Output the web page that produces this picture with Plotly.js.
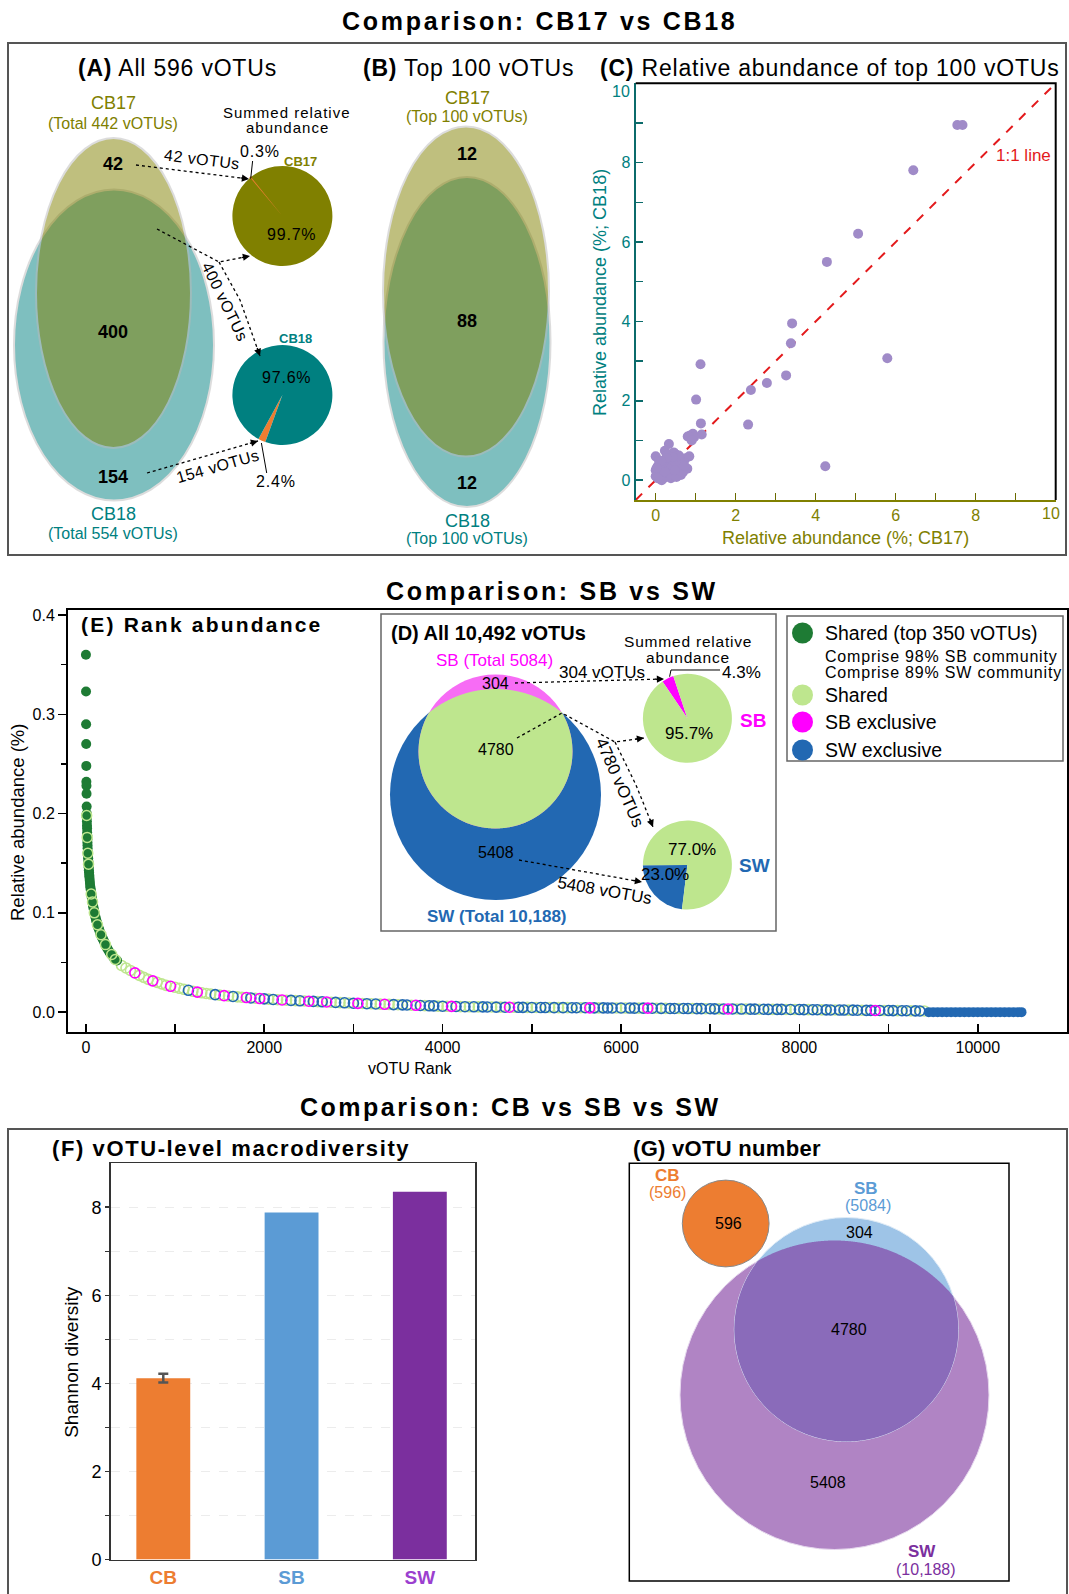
<!DOCTYPE html>
<html><head><meta charset="utf-8">
<script src="https://cdn.plot.ly/plotly-3.0.1.min.js"></script>
<style>html,body{margin:0;padding:0;background:#fff}</style>
</head><body>
<div id="chart" style="width:1069px;height:1594px"></div>
<script>
// ================= DATA =================
// (A) Venn: CB17-only, shared, CB18-only
const aCounts = [42, 400, 154];
const aTotals = [442, 554];
const aAllTotal = 596;
// (A) summed relative abundance pies: [exclusive, shared] (%)
const pieCB17 = [0.3, 99.7];
const pieCB18 = [2.4, 97.6];
// (B) Top 100 Venn
const bCounts = [12, 88, 12];
// (C) relative abundance of top 100 vOTUs (%)
const c17 = [
  7.54,7.67,6.44,5.06,4.28,3.41,3.38,5.79,1.12,3.26,
  2.78,2.38,1.01,2.31,1.13,1.15,4.24,0.85,0.93,0.88,
  0.96,0.80,0.90,0.33,0.23,0.00,0.84,0.79,0.63,0.75,
  0.70,0.50,0.45,0.55,0.60,0.40,0.35,0.30,0.25,0.20,
  0.15,0.10,0.05,0.00,0.00,0.05,0.10,0.15,0.20,0.25,
  0.30,0.35,0.40,0.45,0.50,0.55,0.45,0.40,0.30,0.20,
  0.12,0.08,0.50,0.60,0.65,0.35,0.28,0.18,0.22,0.05,
  0.38,0.52,0.68,0.72,0.58,0.42,0.27,0.14,0.02,0.48];
const c18 = [
  8.95,8.95,7.81,6.21,5.50,3.95,3.45,3.07,2.92,2.64,
  2.45,2.27,2.03,1.40,1.43,1.15,0.35,1.12,1.17,1.05,
  1.08,1.10,1.00,0.91,0.74,0.60,0.60,0.29,0.13,0.55,
  0.45,0.65,0.70,0.55,0.50,0.55,0.45,0.50,0.40,0.30,
  0.25,0.20,0.15,0.10,0.25,0.35,0.05,0.00,0.05,0.10,
  0.20,0.25,0.15,0.10,0.20,0.30,0.35,0.40,0.30,0.45,
  0.40,0.50,0.45,0.35,0.40,0.60,0.62,0.10,0.20,0.05,
  0.05,0.08,0.20,0.35,0.62,0.58,0.55,0.48,0.30,0.25];
const oneToOne = [-0.5, 10];
const cTickVals = [0, 2, 4, 6, 8, 10];
const cTickText = ['0', '2', '4', '6', '8', ''];   // the "10" labels are nudged inside the frame
// (D) SB vs SW Venn: SB-only, shared, SW-only
const dCounts = [304, 4780, 5408];
const dTotals = [5084, 10188];
const dAllTotal = '10,492';
const pieSB = [4.3, 95.7];   // SB exclusive, shared
const pieSW = [23.0, 77.0];  // SW exclusive, shared
// (E) rank abundance: top 350 shared vOTUs
const rankTop = [1,2,3,4,5,6,7,8,9,10,
  11,12,13,14,15,16,17,18,19,20,
  22,24,26,28,30,32,34,36,38,40,
  43,46,49,52,55,58,61,64,67,70,
  74,78,82,86,90,94,98,102,107,112,
  117,122,128,134,140,146,153,160,167,175,
  182,190,200,210,220,230,242,255,267,280,
  295,310,330,350];
const abundTop = [0.360,0.323,0.290,0.270,0.248,0.232,0.228,0.220,0.207,0.200,
  0.196,0.192,0.188,0.185,0.181,0.178,0.174,0.171,0.168,0.165,
  0.161,0.158,0.155,0.152,0.149,0.146,0.143,0.141,0.138,0.136,
  0.133,0.130,0.127,0.125,0.123,0.121,0.119,0.117,0.115,0.113,
  0.111,0.109,0.107,0.105,0.103,0.101,0.099,0.098,0.096,0.094,
  0.092,0.091,0.089,0.087,0.085,0.084,0.082,0.080,0.078,0.077,
  0.075,0.074,0.072,0.070,0.068,0.066,0.064,0.062,0.060,0.059,
  0.057,0.055,0.053,0.052];
const rankSharedTop = [9,15,22,30,60,75,95,130,170,220,290,330];
const abundSharedTop = [0.198,0.176,0.160,0.149,0.119,0.111,0.100,0.088,0.078,0.068,0.058,0.053];
// remaining vOTUs
const tailRanks = [
  400,450,500,550,600,650,700,750,800,850,
  900,950,1000,1050,1100,1150,1200,1250,1300,1350,
  1400,1450,1500,1550,1600,1650,1700,1750,1800,1850,
  1900,1950,2000,2050,2100,2150,2200,2250,2300,2350,
  2400,2450,2500,2550,2600,2650,2700,2750,2800,2850,
  2900,2950,3000,3050,3100,3150,3200,3250,3300,3350,
  3400,3450,3500,3550,3600,3650,3700,3750,3800,3850,
  3900,3950,4000,4050,4100,4150,4200,4250,4300,4350,
  4400,4450,4500,4550,4600,4650,4700,4750,4800,4850,
  4900,4950,5000,5050,5100,5150,5200,5250,5300,5350,
  5400,5450,5500,5550,5600,5650,5700,5750,5800,5850,
  5900,5950,6000,6050,6100,6150,6200,6250,6300,6350,
  6400,6450,6500,6550,6600,6650,6700,6750,6800,6850,
  6900,6950,7000,7050,7100,7150,7200,7250,7300,7350,
  7400,7450,7500,7550,7600,7650,7700,7750,7800,7850,
  7900,7950,8000,8050,8100,8150,8200,8250,8300,8350,
  8400,8450,8500,8550,8600,8650,8700,8750,8800,8850,
  8900,8950,9000,9050,9100,9150,9200,9250,9300,9350,
  9400];
const tailAbund = [
  0.0470,0.0445,0.0420,0.0395,0.0370,0.0350,0.0330,0.0315,0.0300,0.0285,
  0.0270,0.0260,0.0250,0.0240,0.0230,0.0220,0.0210,0.0202,0.0195,0.0188,
  0.0182,0.0176,0.0171,0.0166,0.0162,0.0158,0.0154,0.0150,0.0147,0.0143,
  0.0140,0.0137,0.0134,0.0131,0.0128,0.0125,0.0123,0.0120,0.0118,0.0116,
  0.0114,0.0112,0.0110,0.0108,0.0106,0.0104,0.0102,0.0100,0.0098,0.0096,
  0.0094,0.0092,0.0090,0.0088,0.0087,0.0085,0.0084,0.0082,0.0081,0.0079,
  0.0078,0.0076,0.0075,0.0073,0.0072,0.0070,0.0069,0.0067,0.0066,0.0064,
  0.0063,0.0061,0.0060,0.0059,0.0058,0.0057,0.0056,0.0055,0.0054,0.0054,
  0.0053,0.0053,0.0052,0.0052,0.0051,0.0051,0.0050,0.0050,0.0049,0.0049,
  0.0048,0.0048,0.0047,0.0047,0.0046,0.0046,0.0046,0.0045,0.0045,0.0045,
  0.0045,0.0044,0.0044,0.0044,0.0044,0.0043,0.0043,0.0043,0.0043,0.0042,
  0.0042,0.0042,0.0042,0.0041,0.0041,0.0040,0.0040,0.0040,0.0040,0.0039,
  0.0039,0.0038,0.0038,0.0037,0.0037,0.0037,0.0037,0.0036,0.0036,0.0035,
  0.0035,0.0034,0.0034,0.0033,0.0033,0.0032,0.0032,0.0032,0.0032,0.0031,
  0.0031,0.0030,0.0030,0.0029,0.0029,0.0028,0.0028,0.0028,0.0028,0.0027,
  0.0027,0.0026,0.0026,0.0025,0.0025,0.0024,0.0024,0.0023,0.0023,0.0022,
  0.0022,0.0021,0.0021,0.0020,0.0020,0.0019,0.0019,0.0018,0.0018,0.0017,
  0.0017,0.0016,0.0016,0.0015,0.0015,0.0014,0.0014,0.0013,0.0013,0.0012,
  0.0012];
// g = shared, m = SB exclusive, b = SW exclusive
const tailGroup = ('gggmgggmgg'+'gmgggbgmgg'+'gbgmgbggmb'+'gmbgbgmgbg'+'bgmbgbmgbg'+
                   'bgbmgbgbgm'+'gbgbbgmbgb'+'bgbgmbgbgb'+'gbbgbgbmgb'+'bgbgbbgbgb'+
                   'gbbgbmbgbb'+'bgbgbbgbmb'+'gbgbbgbbgb'+'bgbbgbmbgb'+'gbbgbbgbbg'+
                   'bgbbgbbgbb'+'gbbgbbgbbm'+'bgbbgbbgbb'+'g').split('');
const endRanks = [9450,9500,9550,9600,9650,9700,9750,9800,9850,9900,9950,10000,10050,10100,10150,10200,10250,10300,10350,10400,10450,10490];
const endAbund = [0,0,0,0,0,0,0,0,0,0,0,0,0,0,0,0,0,0,0,0,0,0];
const eTickVals = [0, 2000, 4000, 6000, 8000, 10000];
const eTickText = ['0', '2000', '4000', '6000', '8000', '10000'];
const legendE = ['Shared (top 350 vOTUs)', 'Shared', 'SB exclusive', 'SW exclusive'];
const legendNotes = ['Comprise 98% SB community', 'Comprise 89% SW community'];
// (F) Shannon diversity
const fCats = ['CB', 'SB', 'SW'];
const fVals = [4.12, 7.88, 8.35];
const fErr = [0.10];
// (G) vOTU numbers
const gCB = 596;
const gCounts = [304, 4780, 5408]; // SB-only, shared, SW-only
const gTotals = ['5084', '10,188'];

// ================= HELPERS =================
const W = 1069, H = 1594;
const FONT = '"Liberation Sans", Arial, sans-serif';
const px = x => x / W;
const py = y => 1 - y / H;
const OLIVE = '#808000', TEAL = '#008080', ORANGE = '#ED7D31';
const MAG = '#FF00FF', SWBLUE = '#2268B2', LGREEN = '#BEE68E', DGREEN = '#1E7B34';
const GBLUE = '#5B9BD5', GPURPLE = '#7B2F9E';

const sp = (t, ls) => `<span style="letter-spacing:${ls}px">${t}</span>`;
const annotations = [];
const shapes = [];
function T(x, y, text, size, color, opts) {
  annotations.push(Object.assign({
    xref: 'paper', yref: 'paper', x: px(x), y: py(y), text: text, showarrow: false,
    font: {size: size, color: color || '#000', family: FONT},
    xanchor: 'center', yanchor: 'middle'
  }, opts || {}));
}
function ellipse(e, fill, opts) {
  shapes.push(Object.assign({
    type: 'circle', xref: 'paper', yref: 'paper', layer: 'below',
    x0: px(e.cx - e.rx), x1: px(e.cx + e.rx), y0: py(e.cy + e.ry), y1: py(e.cy - e.ry),
    fillcolor: fill, line: {width: 0}
  }, opts || {}));
}
function inside(p, e) {
  const a = (p[0] - e.cx) / e.rx, b = (p[1] - e.cy) / e.ry;
  return a * a + b * b <= 1;
}
function lens(a, b, fill, opts) {
  const pts = [];
  const N = 1440;
  for (let i = 0; i < N; i++) {
    const t = 2 * Math.PI * i / N;
    const p = [a.cx + a.rx * Math.cos(t), a.cy + a.ry * Math.sin(t)];
    if (inside(p, b)) pts.push(p);
    const q = [b.cx + b.rx * Math.cos(t), b.cy + b.ry * Math.sin(t)];
    if (inside(q, a)) pts.push(q);
  }
  let cx = 0, cy = 0;
  pts.forEach(p => { cx += p[0]; cy += p[1]; });
  cx /= pts.length; cy /= pts.length;
  pts.sort((p, q) => Math.atan2(p[1] - cy, p[0] - cx) - Math.atan2(q[1] - cy, q[0] - cx));
  const path = 'M' + pts.map(p => px(p[0]).toFixed(6) + ',' + py(p[1]).toFixed(6)).join('L') + 'Z';
  shapes.push(Object.assign({type: 'path', xref: 'paper', yref: 'paper', layer: 'below',
    path: path, fillcolor: fill, line: {width: 0}}, opts || {}));
}
function polyline(pts, dash, width) {
  const path = 'M' + pts.map(p => px(p[0]).toFixed(6) + ',' + py(p[1]).toFixed(6)).join('L');
  shapes.push({type: 'path', xref: 'paper', yref: 'paper', layer: 'above', path: path,
    line: {color: '#000', width: width || 1.3, dash: dash || 'dot'}});
}
function head(p0, p1) {
  const dx = p1[0] - p0[0], dy = p1[1] - p0[1], L = Math.hypot(dx, dy);
  annotations.push({xref: 'paper', yref: 'paper', x: px(p1[0]), y: py(p1[1]),
    ax: -dx / L * 10, ay: -dy / L * 10, text: '', showarrow: true,
    arrowhead: 2, arrowsize: 1.1, arrowwidth: 1.3, arrowcolor: '#000'});
}
function rect(x0, y0, x1, y1, color, width, fill) {
  shapes.push({type: 'rect', xref: 'paper', yref: 'paper', layer: 'below',
    x0: px(x0), x1: px(x1), y0: py(y1), y1: py(y0),
    line: {color: color, width: width}, fillcolor: fill || 'rgba(0,0,0,0)'});
}
function pie(values, colors, cx, cy, r, rotation, line) {
  return {type: 'pie', values: values, sort: false, direction: 'clockwise', rotation: rotation,
    marker: {colors: colors, line: line || {width: 0}}, textinfo: 'none', hoverinfo: 'skip',
    showlegend: false, domain: {x: [px(cx - r), px(cx + r)], y: [py(cy + r), py(cy - r)]}};
}

// ================= SECTION FRAMES & TITLES =================
rect(8, 43, 1066, 555, '#555', 2);
rect(8, 1129, 1067, 1600, '#555', 2);
T(539, 21, '<b>' + sp('Comparison: CB17 vs CB18', 2.7) + '</b>', 25);
T(552, 591, '<b>' + sp('Comparison: SB vs SW', 2.7) + '</b>', 25);
T(510, 1107, '<b>' + sp('Comparison: CB vs SB vs SW', 2.5) + '</b>', 25);

// ================= PANEL A =================
T(76, 68, sp('<b>(A)</b> All ' + aAllTotal + ' vOTUs', 0.8), 23, '#000', {xanchor: 'left'});
const aE17 = {cx: 113.5, cy: 293, rx: 77.5, ry: 155};
const aE18 = {cx: 114, cy: 345, rx: 100, ry: 155.5};
ellipse(aE18, TEAL, {opacity: 0.5, line: {color: '#bbbbbb', width: 2}});
ellipse(aE17, OLIVE, {opacity: 0.5, line: {color: '#bbbbbb', width: 2}});
T(113, 103, 'CB17', 18, OLIVE);
T(113, 124, '(Total ' + aTotals[0] + ' vOTUs)', 16, OLIVE);
T(113, 164, '<b>' + aCounts[0] + '</b>', 18);
T(113, 332, '<b>' + aCounts[1] + '</b>', 18);
T(113, 477, '<b>' + aCounts[2] + '</b>', 18);
T(113, 514, 'CB18', 18, TEAL);
T(113, 533, '(Total ' + aTotals[1] + ' vOTUs)', 16, TEAL);
T(287, 112, sp('Summed relative', 1), 15);
T(287, 128, sp('abundance', 1), 15);
T(260, 152, sp(pieCB17[0] + '%', 0.8), 16);
T(300, 161.5, '<b>CB17</b>', 13, OLIVE);
T(291.6, 234, sp(pieCB17[1] + '%', 0.8), 16);
T(295.4, 338.6, '<b>CB18</b>', 13, TEAL);
T(286, 378, sp(pieCB18[1] + '%', 0.8), 16);
T(276.3, 481, sp(pieCB18[0] + '%', 0.8), 16);
polyline([[252.6, 161], [250.7, 178.6]], 'solid', 1);
polyline([[261.4, 443], [266.7, 473]], 'solid', 1);
// arrows
polyline([[136, 165], [249, 179]]); head([136, 165], [249, 179]);
T(201.7, 159.5, sp(aCounts[0] + ' vOTUs', 0.5), 16, '#000', {textangle: 7});
polyline([[157, 229], [219, 262], [250, 256]]); head([219, 262], [250, 256]);
polyline([[219, 262], [240, 300], [260, 356]]); head([240, 300], [260, 356]);
T(224.6, 301.8, sp(aCounts[1] + ' vOTUs', 0.5), 16, '#000', {textangle: 64});
polyline([[147, 473], [258, 441]]); head([147, 473], [258, 441]);
T(217, 466, sp(aCounts[2] + ' vOTUs', 0.5), 16, '#000', {textangle: -16});

// ================= PANEL B =================
T(361, 68, sp('<b>(B)</b> Top 100 vOTUs', 0.8), 23, '#000', {xanchor: 'left'});
const bE17 = {cx: 466, cy: 291.5, rx: 83, ry: 165};
const bE18 = {cx: 467, cy: 342, rx: 83.5, ry: 165};
ellipse(bE18, TEAL, {opacity: 0.5, line: {color: '#bbbbbb', width: 2}});
ellipse(bE17, OLIVE, {opacity: 0.5, line: {color: '#bbbbbb', width: 2}});
T(467, 98, 'CB17', 18, OLIVE);
T(467, 116, '(Top 100 vOTUs)', 16, OLIVE);
T(467, 153.6, '<b>' + bCounts[0] + '</b>', 18);
T(467, 320.7, '<b>' + bCounts[1] + '</b>', 18);
T(467, 483, '<b>' + bCounts[2] + '</b>', 18);
T(467, 520.7, 'CB18', 18, TEAL);
T(467, 538.6, '(Top 100 vOTUs)', 16, TEAL);

// ================= PANEL C =================
T(598, 68, sp('<b>(C)</b> Relative abundance of top 100 vOTUs', 0.8), 23, '#000', {xanchor: 'left'});
T(845, 538, 'Relative abundance (%; CB17)', 18, OLIVE);
T(600, 293, 'Relative abundance (%; CB18)', 18, TEAL, {textangle: -90});
T(1023, 155, '1:1 line', 17, '#E31A1C');
T(632, 91, String(cTickVals[5]), 16, TEAL, {xanchor: 'right'});
T(1051, 513, String(cTickVals[5]), 16, OLIVE);
polyline([[635.7, 83.3], [1055.7, 83.3], [1055.7, 500]], 'solid', 2);

// ================= PANEL E / D =================
T(78.5, 624, '<b>' + sp('(E) Rank abundance', 2.2) + '</b>', 21, '#000', {xanchor: 'left'});
T(17, 823, 'Relative abundance (%)', 18.5, '#000', {textangle: -90});
T(410, 1068, 'vOTU Rank', 16);

rect(381, 614, 776, 931, '#666', 1.5, '#fff');
T(388.7, 633, '<b>(D) All ' + dAllTotal + ' vOTUs</b>', 20, '#000', {xanchor: 'left'});
const dSW = {cx: 495.5, cy: 794.5, rx: 105.5, ry: 105.5};
const dSB = {cx: 495.5, cy: 751.5, rx: 77, ry: 77};
ellipse(dSW, SWBLUE);
ellipse(dSB, '#F76CF5');
lens(dSB, dSW, LGREEN);
T(494.8, 660, 'SB (Total ' + dTotals[0] + ')', 17, MAG);
T(495.7, 683.3, String(dCounts[0]), 16);
T(495.7, 749.3, String(dCounts[1]), 16);
T(495.7, 853, String(dCounts[2]), 16);
T(497, 916.7, '<b>SW (Total 10,188)</b>', 17, SWBLUE);
T(688, 641, sp('Summed relative', 0.8), 15.5);
T(688, 657.7, sp('abundance', 0.8), 15.5);
T(601.8, 672.3, dCounts[0] + ' vOTUs', 17);
T(741.5, 672.7, pieSB[0] + '%', 17);
T(688.8, 733.3, pieSB[1] + '%', 17);
T(752.5, 721, '<b>SB</b>', 19, MAG);
T(691.9, 849, pieSW[1].toFixed(1) + '%', 17);
T(665, 874.3, pieSW[0].toFixed(1) + '%', 17);
T(754.3, 865.7, '<b>SW</b>', 19, SWBLUE);
polyline([[669.6, 676.7], [671, 670], [720, 670]], 'solid', 1);
polyline([[515, 683], [664, 679]]); head([515, 683], [664, 679]);
polyline([[517, 738], [562, 713], [615, 742], [644, 738]]); head([615, 742], [644, 738]);
polyline([[615, 742], [636, 785], [653, 827]]); head([636, 785], [653, 827]);
T(619.6, 782.5, dCounts[1] + ' vOTUs', 17, '#000', {textangle: 66});
polyline([[519, 860], [642, 882]]); head([519, 860], [642, 882]);
T(604, 890, dCounts[2] + ' vOTUs', 17, '#000', {textangle: 10});

// legend for E
rect(787, 616, 1063, 761, '#666', 1.5, '#fff');
const legColors = [DGREEN, LGREEN, MAG, SWBLUE];
const legY = [633, 695, 722, 750];
legColors.forEach((c, i) => {
  ellipse({cx: 802.5, cy: legY[i], rx: 10.5, ry: 10.5}, c);
  T(822.5, legY[i], legendE[i], 19.5, '#000', {xanchor: 'left'});
});
T(822.5, 656.5, sp(legendNotes[0], 0.8), 16, '#000', {xanchor: 'left'});
T(822.5, 673, sp(legendNotes[1], 0.8), 16, '#000', {xanchor: 'left'});

// ================= PANEL F =================
T(50, 1148.6, '<b>' + sp('(F) vOTU-level macrodiversity', 1.6) + '</b>', 22, '#000', {xanchor: 'left'});
T(71.4, 1361.4, 'Shannon diversity', 19, '#000', {textangle: -90});

// ================= PANEL G =================
T(631, 1148, '<b>' + sp('(G) vOTU number', 0.3) + '</b>', 22, '#000', {xanchor: 'left'});
rect(629.3, 1163.2, 1009, 1581, '#000', 1.5);
const gSW = {cx: 834.5, cy: 1395, rx: 154.5, ry: 154.5};
const gSB = {cx: 846.3, cy: 1329.5, rx: 112, ry: 112};
const gCBc = {cx: 725.7, cy: 1223.5, rx: 43.4, ry: 43.4};
ellipse(gSW, '#B084C4', {line: {color: '#e6d8ee', width: 1}});
ellipse(gSB, '#9EC4E7', {line: {color: '#e0ecf7', width: 1}});
lens(gSB, gSW, '#8A6BBA');
ellipse(gCBc, ORANGE, {line: {color: '#888', width: 1}});
T(667.7, 1175, '<b>CB</b>', 17, ORANGE);
T(667.7, 1192.8, '(' + gCB + ')', 16, ORANGE);
T(728.3, 1223.8, String(gCB), 16);
T(865.7, 1188.7, '<b>SB</b>', 17, GBLUE);
T(868.3, 1205.8, '(' + gTotals[0] + ')', 16, GBLUE);
T(859, 1232, String(gCounts[0]), 16);
T(849, 1329, String(gCounts[1]), 16);
T(828.3, 1482.3, String(gCounts[2]), 16);
T(921.7, 1551.5, '<b>SW</b>', 17, GPURPLE);
T(925.7, 1569.9, '(' + gTotals[1] + ')', 16, GPURPLE);

// ================= TRACES =================
const traces = [];
// C scatter
traces.push({type: 'scatter', mode: 'lines', x: oneToOne, y: oneToOne, xaxis: 'x', yaxis: 'y',
  line: {color: '#E31A1C', width: 2, dash: 'dash'}, hoverinfo: 'skip'});
traces.push({type: 'scatter', mode: 'markers', x: c17, y: c18, xaxis: 'x', yaxis: 'y',
  marker: {size: 10, color: '#A08BC8'}, hoverinfo: 'skip'});
// E rank abundance
const grpColor = {g: LGREEN, m: MAG, b: SWBLUE};
['g', 'b', 'm'].forEach(g => {
  const xs = [], ys = [];
  tailGroup.forEach((k, i) => { if (k === g) { xs.push(tailRanks[i]); ys.push(tailAbund[i]); } });
  traces.push({type: 'scatter', mode: 'markers', x: xs, y: ys, xaxis: 'x2', yaxis: 'y2',
    marker: {symbol: 'circle-open', size: 10, color: grpColor[g], line: {width: 1.6}}, hoverinfo: 'skip'});
});
traces.push({type: 'scatter', mode: 'markers', x: endRanks, y: endAbund, xaxis: 'x2', yaxis: 'y2',
  marker: {size: 10, color: SWBLUE}, hoverinfo: 'skip'});
traces.push({type: 'scatter', mode: 'markers', x: rankTop, y: abundTop, xaxis: 'x2', yaxis: 'y2',
  marker: {size: 10, color: DGREEN}, hoverinfo: 'skip'});
traces.push({type: 'scatter', mode: 'markers', x: rankSharedTop, y: abundSharedTop, xaxis: 'x2', yaxis: 'y2',
  marker: {symbol: 'circle-open', size: 10, color: LGREEN, line: {width: 1.5}}, hoverinfo: 'skip'});
// F bars
traces.push({type: 'bar', x: fCats, y: fVals, width: 0.42, xaxis: 'x3', yaxis: 'y3',
  marker: {color: [ORANGE, GBLUE, GPURPLE], line: {width: 0}}, hoverinfo: 'skip'});
traces.push({type: 'scatter', mode: 'markers', x: [fCats[0]], y: [fVals[0]], xaxis: 'x3', yaxis: 'y3',
  marker: {size: 1, opacity: 0}, error_y: {type: 'data', array: fErr, color: '#555', thickness: 2.5, width: 5},
  hoverinfo: 'skip'});
// pies
traces.push(pie(pieCB17, [ORANGE, OLIVE], 282.4, 216, 50, 320, {color: [ORANGE, OLIVE], width: [1.6, 0]}));
traces.push(pie(pieCB18, [ORANGE, TEAL], 282.4, 395, 50, 200));
traces.push(pie(pieSB, [MAG, LGREEN], 687.4, 718.3, 44.5, 326));
traces.push(pie(pieSW, [SWBLUE, LGREEN], 687.4, 865, 44.5, 187));

// ================= LAYOUT =================
const fTickText = ['<b><span style="color:' + ORANGE + '">CB</span></b>',
                   '<b><span style="color:' + GBLUE + '">SB</span></b>',
                   '<b><span style="color:#9B3FCF">SW</span></b>'];
const layout = {
  width: W, height: H, margin: {l: 0, r: 0, t: 0, b: 0},
  paper_bgcolor: '#fff', plot_bgcolor: 'rgba(0,0,0,0)',
  showlegend: false, hovermode: false, barmode: 'overlay',
  font: {family: FONT, color: '#000'},
  xaxis: {domain: [px(635.7), px(1055.7)], range: [-0.5, 10], anchor: 'y',
    tickvals: cTickVals, ticktext: cTickText, ticks: 'inside', ticklen: 7, tickwidth: 1.5, tickcolor: '#6b6b00',
    minor: {tickvals: [1, 3, 5, 7, 9], ticks: 'inside', ticklen: 7, tickwidth: 1.5, tickcolor: '#6b6b00'},
    showline: true, linecolor: OLIVE, linewidth: 2, showgrid: false, zeroline: false,
    tickfont: {size: 16, color: OLIVE}},
  yaxis: {domain: [py(500), py(83.3)], range: [-0.5, 10], anchor: 'x',
    tickvals: cTickVals, ticktext: cTickText, ticks: 'inside', ticklen: 7, tickwidth: 1.5, tickcolor: '#0b6b6b',
    minor: {tickvals: [1, 3, 5, 7, 9], ticks: 'inside', ticklen: 7, tickwidth: 1.5, tickcolor: '#0b6b6b'},
    showline: true, linecolor: '#0b6b6b', linewidth: 2, showgrid: false, zeroline: false,
    tickfont: {size: 16, color: TEAL}},
  xaxis2: {domain: [px(68), px(1067)], range: [-200, 11000], anchor: 'y2',
    tickvals: eTickVals, ticktext: eTickText, ticks: 'inside', ticklen: 8, tickwidth: 1.5, tickcolor: '#000',
    minor: {tickvals: [1000, 3000, 5000, 7000, 9000], ticks: 'inside', ticklen: 8, tickwidth: 1.5, tickcolor: '#000'},
    showline: true, mirror: true, linecolor: '#000', linewidth: 2, showgrid: false, zeroline: false,
    tickfont: {size: 16}},
  yaxis2: {domain: [py(1032), py(610)], range: [-0.02, 0.405], anchor: 'x2',
    tickvals: [0, 0.1, 0.2, 0.3, 0.4], ticktext: ['0.0', '0.1', '0.2', '0.3', '0.4'],
    ticks: 'outside', ticklen: 8, tickwidth: 1.5, tickcolor: '#000',
    minor: {tickvals: [0.05, 0.15, 0.25, 0.35], ticks: 'outside', ticklen: 5, tickwidth: 1.5, tickcolor: '#000'},
    showline: true, mirror: true, linecolor: '#000', linewidth: 2, showgrid: false, zeroline: false,
    tickfont: {size: 16}},
  xaxis3: {domain: [px(110.7), px(475)], type: 'category', range: [-0.41, 2.43], anchor: 'y3',
    tickvals: fCats, ticktext: fTickText, ticks: '', showline: true, mirror: true, linecolor: '#333', linewidth: 1.5,
    showgrid: false, zeroline: false, tickfont: {size: 19}},
  yaxis3: {domain: [py(1559.6), py(1163.2)], range: [0, 9], anchor: 'x3',
    tickvals: [0, 2, 4, 6, 8], ticks: 'outside', ticklen: 4, tickwidth: 1.5, tickcolor: '#333',
    minor: {tickvals: [1, 3, 5, 7], ticks: 'outside', ticklen: 4, tickwidth: 1.5, tickcolor: '#333',
      showgrid: true, gridcolor: '#ececec', griddash: 'dash', gridwidth: 1},
    showgrid: true, gridcolor: '#ececec', griddash: 'dash', gridwidth: 1,
    showline: true, mirror: true, linecolor: '#333', linewidth: 1.5, zeroline: false,
    tickfont: {size: 18}},
  shapes: shapes,
  annotations: annotations
};
Plotly.newPlot('chart', traces, layout, {staticPlot: true, displayModeBar: false});
</script>
</body></html>
